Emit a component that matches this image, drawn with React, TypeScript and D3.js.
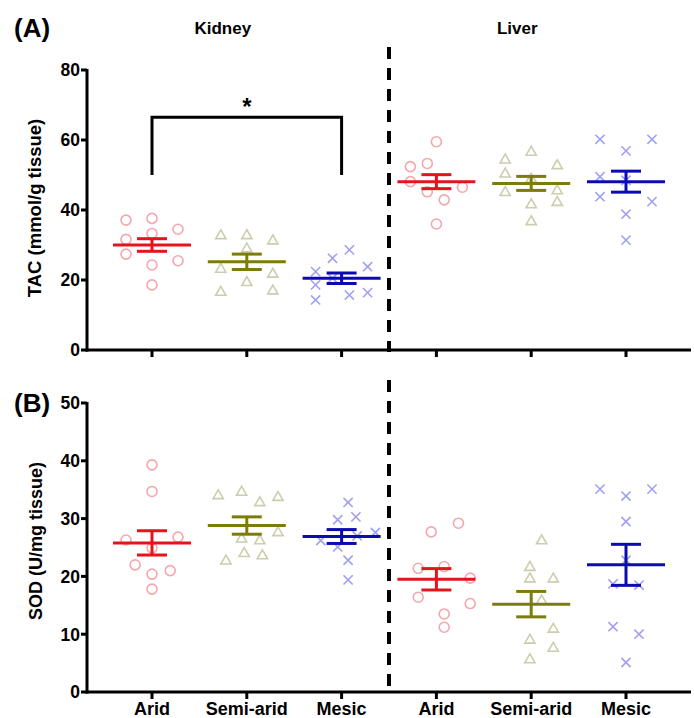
import React from "react";
import * as d3 from "d3";

// ---------- data ----------
const groups = ["Arid", "Semi-arid", "Mesic"];
const tissues = ["Kidney", "Liver"];
const tacTicks = [0, 20, 40, 60, 80];
const sodTicks = [0, 10, 20, 30, 40, 50];

// points: [value, jitter column]
const tacKidneyArid = [[37.1, -1], [37.6, 0], [34.5, 1], [31.6, -1], [33.3, 0], [27.4, -1], [24.3, 0], [25.5, 1], [18.6, 0]];
const tacKidneySemi = [[32.9, -1], [32.9, 0], [31.4, 1], [29.1, 0], [23.3, -1], [21.9, 1], [19.5, 0], [16.7, -1], [17.1, 1]];
const tacKidneyMesic = [[28.6, 0.3], [26.2, -0.35], [23.8, 1], [22.4, -1], [20.5, -0.35], [18.6, -1], [14.3, -1], [15.7, 0.3], [16.4, 1]];
const tacLiverArid = [[59.5, 0], [52.4, -1], [53.3, -0.35], [48.1, -1], [45.2, -0.35], [42.9, 0.3], [46.5, 1], [36.0, 0]];
const tacLiverSemi = [[54.5, -1], [56.7, 0], [52.9, 1], [50.5, -1], [49.0, 0], [45.2, -1], [45.7, 1], [42.4, 1], [41.7, 0], [36.9, 0]];
const tacLiverMesic = [[60.2, -1], [56.9, 0], [60.2, 1], [49.5, -1], [48.5, 0], [43.8, -1], [42.4, 1], [38.8, 0], [31.4, 0]];

const sodKidneyArid = [[39.3, 0], [34.7, 0], [26.3, -1], [26.8, 1], [24.9, 0], [22.0, -0.65], [21.0, 0.7], [20.4, 0], [17.8, 0]];
const sodKidneySemi = [[34.1, -1.1], [34.7, -0.2], [32.9, 0.5], [33.8, 1.2], [27.7, 1.2], [26.6, -0.2], [26.3, 0.5], [22.8, -0.8], [24.1, -0.1], [23.7, 0.6]];
const sodKidneyMesic = [[32.8, 0.25], [29.8, -0.15], [30.3, 0.55], [26.2, -0.8], [27.6, 1.3], [25.1, -0.15], [22.8, 0.25], [19.4, 0.25], [27.0, 0.6]];
const sodLiverArid = [[27.7, -0.2], [29.2, 0.85], [21.4, -0.7], [21.7, 0.3], [19.7, 1.3], [16.4, -0.7], [15.3, 1.3], [13.5, 0.3], [11.2, 0.3]];
const sodLiverSemi = [[26.3, 0.4], [21.7, -0.05], [19.7, -0.05], [19.7, 0.85], [15.9, 0.4], [11.0, 0.85], [9.1, -0.05], [7.7, 0.85], [5.7, -0.05]];
const sodLiverMesic = [[35.1, -1], [33.9, 0], [35.1, 1], [29.5, 0], [22.8, 0], [18.7, -0.5], [18.5, 0.5], [11.3, -0.5], [10.0, 0.5], [5.1, 0]];

// mean and SEM as drawn
const tacMeans = [30.0, 25.2, 20.5, 48.1, 47.6, 48.1];
const tacSems = [1.8, 2.2, 1.5, 2.0, 2.0, 3.0];
const sodMeans = [25.8, 28.8, 26.9, 19.5, 15.2, 22.0];
const sodSems = [2.1, 1.5, 1.2, 1.85, 2.2, 3.55];

// ---------- styling ----------
const FONT = "'Liberation Sans', Arial, sans-serif";
const pointColors = ["#f4a7ad", "#cdcdae", "#a0a0f2"];
const meanColors = ["#e4141c", "#7c7c0c", "#0c0cae"];
const keys = ["K0", "K1", "K2", "L0", "L1", "L2"];

const W = 694;
const H = 718;
const xLeft = 87;
const xRight = 691;
const x = d3.scalePoint<string>().domain(keys).range([152, 626]);
const sepX = (x("K2")! + x("L0")!) / 2;
const jitterPx = 26;

function Marker({ kind, cx, cy, color }: { kind: number; cx: number; cy: number; color: string }) {
  if (kind === 0) return <circle cx={cx} cy={cy} r={5} fill="none" stroke={color} strokeWidth={1.6} />;
  if (kind === 1) {
    const tri = d3.symbol().type(d3.symbolTriangle2).size(75)();
    return <path d={tri!} transform={`translate(${cx},${cy + 0.8})`} fill="none" stroke={color} strokeWidth={1.6} />;
  }
  const s = 4.6;
  return (
    <path d={`M${cx - s},${cy - s}L${cx + s},${cy + s}M${cx - s},${cy + s}L${cx + s},${cy - s}`} stroke={color} strokeWidth={1.6} />
  );
}

function Panel({
  yTop, yBottom, domainMax, ticks, series, means, sems, showLabels,
}: {
  yTop: number; yBottom: number; domainMax: number; ticks: number[];
  series: number[][][]; means: number[]; sems: number[]; showLabels: boolean;
}) {
  const y = d3.scaleLinear().domain([0, domainMax]).range([yBottom, yTop]);
  return (
    <g>
      {series.map((pts, gi) =>
        pts.map((p, pi) => (
          <Marker key={`${gi}-${pi}`} kind={gi % 3} cx={x(keys[gi])! + p[1] * jitterPx} cy={y(p[0])} color={pointColors[gi % 3]} />
        ))
      )}
      {means.map((m, gi) => {
        const cx = x(keys[gi])!;
        const c = meanColors[gi % 3];
        const hi = y(m + sems[gi]);
        const lo = y(m - sems[gi]);
        return (
          <g key={gi} stroke={c} strokeWidth={3} fill="none">
            <line x1={cx - 39} x2={cx + 39} y1={y(m)} y2={y(m)} />
            <line x1={cx} x2={cx} y1={hi} y2={lo} />
            <line x1={cx - 15} x2={cx + 15} y1={hi} y2={hi} />
            <line x1={cx - 15} x2={cx + 15} y1={lo} y2={lo} />
          </g>
        );
      })}
      <line x1={xLeft} x2={xLeft} y1={yTop - 1} y2={yBottom + 1.5} stroke="#000" strokeWidth={3} />
      {ticks.map((t) => (
        <g key={t}>
          <line x1={xLeft - 6} x2={xLeft} y1={y(t)} y2={y(t)} stroke="#000" strokeWidth={3} />
          <text x={xLeft - 7} y={y(t)} dy="0.36em" textAnchor="end" fontFamily={FONT} fontWeight="bold" fontSize={17.5}>
            {t}
          </text>
        </g>
      ))}
      <line x1={xLeft - 1.5} x2={xRight} y1={yBottom} y2={yBottom} stroke="#000" strokeWidth={3} />
      {keys.map((k) => (
        <line key={k} x1={x(k)} x2={x(k)} y1={yBottom} y2={yBottom + 7} stroke="#000" strokeWidth={3} />
      ))}
      {showLabels &&
        keys.map((k, i) => (
          <text key={k} x={x(k)} y={yBottom + 23} textAnchor="middle" fontFamily={FONT} fontWeight="bold" fontSize={18}>
            {groups[i % 3]}
          </text>
        ))}
    </g>
  );
}

export default function App() {
  const yA = d3.scaleLinear().domain([0, 80]).range([350, 70]);
  const tacSeries = [tacKidneyArid, tacKidneySemi, tacKidneyMesic, tacLiverArid, tacLiverSemi, tacLiverMesic];
  const sodSeries = [sodKidneyArid, sodKidneySemi, sodKidneyMesic, sodLiverArid, sodLiverSemi, sodLiverMesic];
  const bx1 = x("K0")!;
  const bx2 = x("K2")!;
  return (
    <svg width={W} height={H} style={{ position: "absolute", left: 0, top: 0, background: "#fff" }}>
      <rect width={W} height={H} fill="#fff" />
      <text x={14} y={37} fontFamily={FONT} fontWeight="bold" fontSize={26}>(A)</text>
      <text x={(x("K1")! - 24)} y={34} textAnchor="middle" fontFamily={FONT} fontWeight="bold" fontSize={17}>{tissues[0]}</text>
      <text x={x("L1")! - 14} y={34} textAnchor="middle" fontFamily={FONT} fontWeight="bold" fontSize={17}>{tissues[1]}</text>
      <text x={14} y={412} fontFamily={FONT} fontWeight="bold" fontSize={26}>(B)</text>

      <text transform={`translate(41,${208}) rotate(-90)`} textAnchor="middle" fontFamily={FONT} fontWeight="bold" fontSize={18.5}>
        TAC (mmol/g tissue)
      </text>
      <text transform={`translate(42,${541}) rotate(-90)`} textAnchor="middle" fontFamily={FONT} fontWeight="bold" fontSize={18}>
        SOD (U/mg tissue)
      </text>

      <Panel yTop={70} yBottom={350} domainMax={80} ticks={tacTicks} series={tacSeries} means={tacMeans} sems={tacSems} showLabels={false} />
      <Panel yTop={403} yBottom={692} domainMax={50} ticks={sodTicks} series={sodSeries} means={sodMeans} sems={sodSems} showLabels={true} />

      <path d={`M${bx1},${yA(50)}V${yA(66.5)}H${bx2}V${yA(50)}`} fill="none" stroke="#000" strokeWidth={3} />
      <text x={(bx1 + bx2) / 2} y={yA(66.5) - 2} textAnchor="middle" fontFamily={FONT} fontWeight="bold" fontSize={24}>*</text>

      <line x1={sepX} x2={sepX} y1={47} y2={352} stroke="#000" strokeWidth={4} strokeDasharray="12 9" />
      <line x1={sepX} x2={sepX} y1={380} y2={692} stroke="#000" strokeWidth={4} strokeDasharray="12 9" />
    </svg>
  );
}
